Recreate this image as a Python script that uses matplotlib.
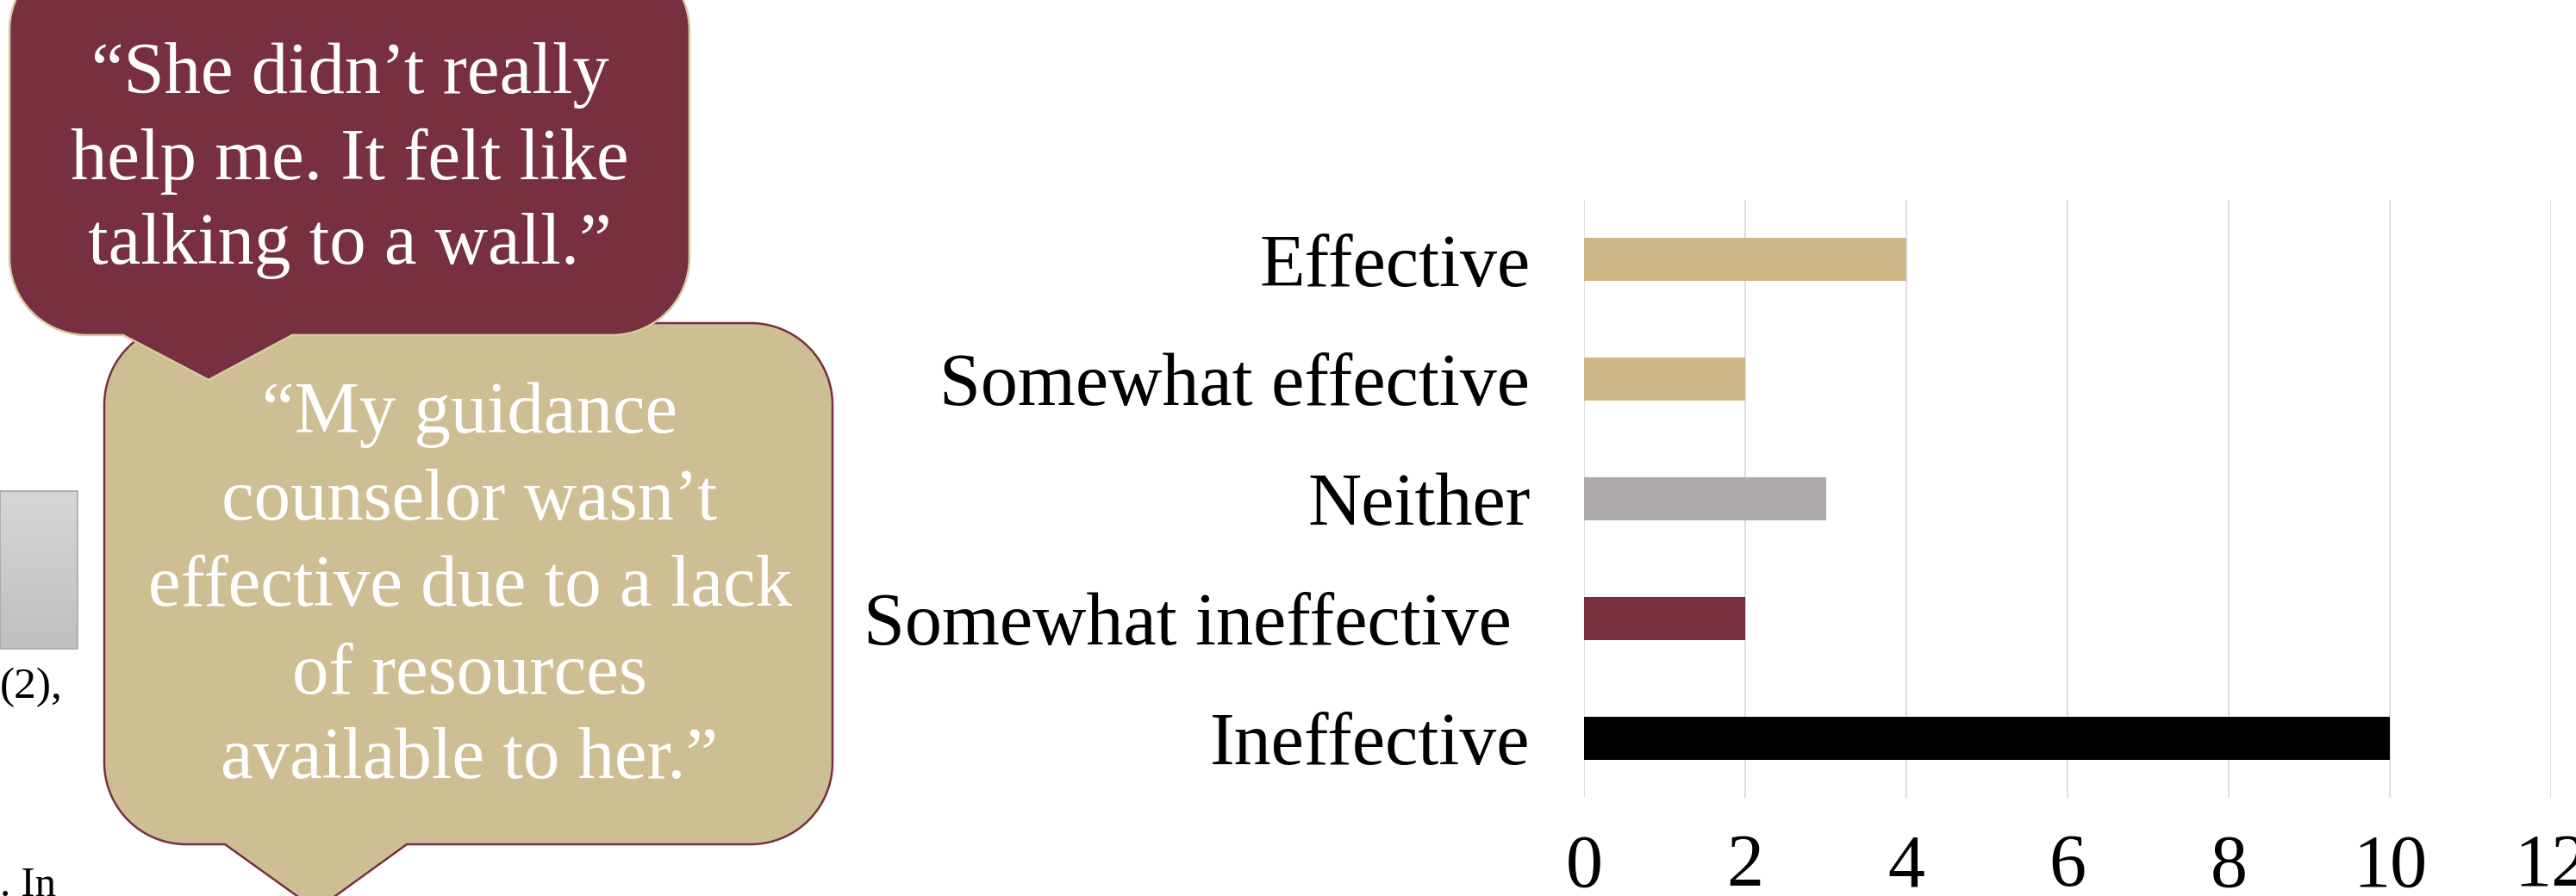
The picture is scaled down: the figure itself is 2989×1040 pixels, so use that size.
import numpy as np
import matplotlib
matplotlib.use("Agg")
import matplotlib.pyplot as plt
from matplotlib.patches import Polygon, Rectangle

# Survey responses: how effective was the guidance counselor
categories = ["Effective", "Somewhat effective", "Neither", "Somewhat ineffective ", "Ineffective"]
counts = [4, 2, 3, 2, 10]
bar_colors = ["#CEB888", "#CEB888", "#AEAAAA", "#782F40", "#000000"]
x_ticks = [0, 2, 4, 6, 8, 10, 12]

quote_one = ["\u201cShe didn\u2019t really", "help me. It felt like", "talking to a wall.\u201d"]
quote_two = ["\u201cMy guidance", "counselor wasn\u2019t", "effective due to a lack",
             "of resources", "available to her.\u201d"]

GARNET = "#782F40"
GOLD = "#CDBF93"
GOLD_EDGE = "#D8CBA2"
SERIF = "Liberation Serif"

W, H = 2989, 1040
fig = plt.figure(figsize=(W / 100, H / 100), dpi=100)
fig.patch.set_facecolor("white")

# ---- bar chart -------------------------------------------------------------
ax = fig.add_axes([1838 / W, 1 - 926 / H, (2960 - 1838) / W, (926 - 232) / H])
ypos = np.arange(len(categories))
ax.barh(ypos, counts, height=0.36, color=bar_colors, zorder=3)
ax.set_ylim(len(categories) - 0.5, -0.5)
ax.set_xlim(0, 12)
ax.set_xticks(x_ticks)
ax.set_xticklabels([str(t) for t in x_ticks])
ax.set_yticks(ypos)
ax.set_yticklabels(categories)
ax.grid(axis="x", color="#D9D9D9", linewidth=1.2, zorder=0)
ax.grid(axis="y", visible=False)
for s in ax.spines.values():
    s.set_visible(False)
ax.tick_params(axis="x", length=0, pad=30, labelsize=62)
ax.tick_params(axis="y", length=0, pad=45, labelsize=62)
for lab in ax.get_xticklabels() + ax.get_yticklabels():
    lab.set_fontfamily(SERIF)
    lab.set_color("black")
ax.set_facecolor("none")

# ---- overlay in pixel coordinates (y grows downward) -------------------------
ov = fig.add_axes([0, 0, 1, 1], zorder=-1)
ov.set_xlim(0, W)
ov.set_ylim(H, 0)
ov.axis("off")


def callout(x0, y0, x1, y1, r, tail_l, tail_r, tip):
    """Rounded rectangle with a pointed tail on its bottom edge."""
    def arc(cx, cy, a0, a1):
        t = np.radians(np.linspace(a0, a1, 30))
        return list(zip(cx + r * np.cos(t), cy + r * np.sin(t)))
    pts = []
    pts += arc(x1 - r, y0 + r, -90, 0)
    pts += arc(x1 - r, y1 - r, 0, 90)
    pts += [(tail_r, y1), tip, (tail_l, y1)]
    pts += arc(x0 + r, y1 - r, 90, 180)
    pts += arc(x0 + r, y0 + r, 180, 270)
    return np.array(pts)


# gray box fragment at the left edge
grad = np.linspace(0, 1, 100).reshape(-1, 1)
ov.imshow(grad, extent=(0, 90, 753, 570), cmap=matplotlib.colors.LinearSegmentedColormap.from_list(
    "g", ["#D6D6D6", "#BFBFBF"]), aspect="auto", zorder=1)
ov.add_patch(Rectangle((0, 570), 90, 183, fill=False, edgecolor="#A8A8A8", linewidth=1.2, zorder=2))
ov.text(0, 810, "(2),", fontsize=37, family=SERIF, ha="left", va="baseline", zorder=2)
ov.text(0, 1040, ". In", fontsize=35, family=SERIF, ha="left", va="baseline", zorder=2)

# gold speech bubble
gold = callout(121, 375, 966, 980, 95, 261, 472, (367, 1056))
ov.add_patch(Polygon(gold, closed=True, facecolor=GOLD, edgecolor=GARNET, linewidth=1.8, zorder=3))
for yy, line in zip([481, 582, 683, 784, 883], quote_two):
    ov.text(545, yy, line, fontsize=61, family=SERIF, color="white", ha="center", va="center", zorder=4)

# garnet speech bubble (drawn on top)
garnet = callout(11, -55, 800, 389, 90, 143, 339, (242, 441))
ov.add_patch(Polygon(garnet, closed=True, facecolor=GARNET, edgecolor=GOLD_EDGE, linewidth=1.8, zorder=5))
for yy, line in zip([87, 187, 286], quote_one):
    ov.text(406, yy, line, fontsize=61, family=SERIF, color="white", ha="center", va="center", zorder=6)

fig.savefig("out.png", dpi=100, facecolor="white")
